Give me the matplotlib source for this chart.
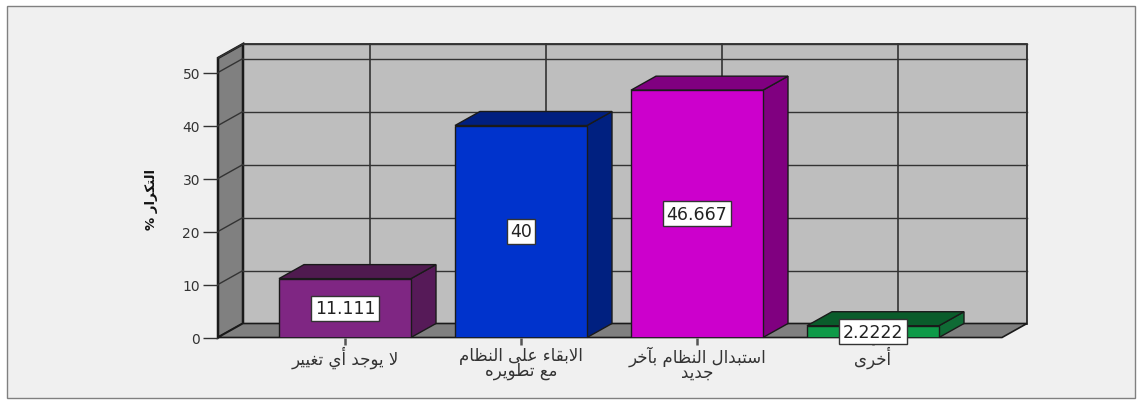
import unicodedata
import matplotlib
matplotlib.use('Agg')
import matplotlib.pyplot as plt
from matplotlib.patches import Polygon, Rectangle

labels = ['لا يوجد أي تغيير', 'الابقاء على النظام\nمع تطويره', 'استبدال النظام بآخر\nجديد', 'أخرى']
values = [11.111, 40, 46.667, 2.2222]
value_labels = ['11.111', '40', '46.667', '2.2222']
y_ticks = [0, 10, 20, 30, 40, 50]
y_title = 'التكرار %'

front_colors = ['#7f2683', '#0033cc', '#cc00cc', '#0e9a48']
top_colors = ['#4f1a4f', '#001f80', '#800080', '#0a5c2b']
side_colors = ['#561a58', '#002080', '#800080', '#0f6b35']

W, H = 1143, 414
DX = 25 / 176   # depth in category units
DY = 14 / 5.3   # depth in value units
BAR = 0.75
EDGE = '#1a1a1a'

# matplotlib has no arabic shaping, so pick the presentation forms by hand
RIGHT_ONLY = 'اأآدذرزوى'
NAMES = {'ا': 'ALEF', 'أ': 'ALEF WITH HAMZA ABOVE', 'آ': 'ALEF WITH MADDA ABOVE', 'ب': 'BEH', 'ت': 'TEH',
         'ج': 'JEEM', 'خ': 'KHAH', 'د': 'DAL', 'ر': 'REH', 'س': 'SEEN', 'ط': 'TAH', 'ظ': 'ZAH', 'ع': 'AIN',
         'غ': 'GHAIN', 'ق': 'QAF', 'ك': 'KAF', 'ل': 'LAM', 'م': 'MEEM', 'ن': 'NOON', 'ه': 'HEH', 'و': 'WAW',
         'ى': 'ALEF MAKSURA', 'ي': 'YEH', 'ء': 'HAMZA'}


def shape_line(line):
    out = []
    i = 0
    while i < len(line):
        c = line[i]
        if c not in NAMES:
            out.append(c)
            i += 1
            continue
        prev = line[i - 1] if i > 0 else ' '
        joins_prev = prev in NAMES and prev not in RIGHT_ONLY and prev != 'ء' and c != 'ء'
        if c == 'ل' and i + 1 < len(line) and line[i + 1] == 'ا':
            out.append('\ufefc' if joins_prev else '\ufefb')
            i += 2
            continue
        nxt = line[i + 1] if i + 1 < len(line) else ' '
        joins_next = nxt in NAMES and nxt != 'ء' and c not in RIGHT_ONLY and c != 'ء'
        form = {(0, 0): 'ISOLATED', (1, 0): 'FINAL', (0, 1): 'INITIAL', (1, 1): 'MEDIAL'}[(int(joins_prev), int(joins_next))]
        out.append(unicodedata.lookup('ARABIC LETTER %s %s FORM' % (NAMES[c], form)))
        i += 1
    return ''.join(out)[::-1]


def shape(text):
    return '\n'.join(shape_line(l) for l in text.split('\n'))


plt.rcParams['font.family'] = ['DejaVu Sans']

fig = plt.figure(figsize=(W / 100, H / 100), dpi=100, facecolor='white')
fig.patches.append(Rectangle((7 / W, 1 - 399 / H), 1128 / W, 392 / H, transform=fig.transFigure,
                             facecolor='#f0f0f0', edgecolor='#808080', linewidth=1, zorder=-1))

# axes = front plane of the 3d box
ax = fig.add_axes([218 / W, 1 - 338.5 / H, 784 / W, 279.5 / H])
ax.patch.set_visible(False)
ax.set_xlim(-127 / 176, 657 / 176)
ymax = 279.5 / 5.3
ax.set_ylim(0, ymax)
x0, x1 = ax.get_xlim()

for s in ax.spines.values():
    s.set_visible(False)

# walls
ax.add_patch(Polygon([(x0 + DX, DY), (x1 + DX, DY), (x1 + DX, ymax + DY), (x0 + DX, ymax + DY)],
                     facecolor='#bebebe', edgecolor=EDGE, linewidth=1.2, clip_on=False, zorder=1))
ax.add_patch(Polygon([(x0, 0), (x0 + DX, DY), (x0 + DX, ymax + DY), (x0, ymax)],
                     facecolor='#808080', edgecolor=EDGE, linewidth=1.8, clip_on=False, zorder=1))
ax.add_patch(Polygon([(x0, 0), (x1, 0), (x1 + DX, DY), (x0 + DX, DY)],
                     facecolor='#808080', edgecolor=EDGE, linewidth=1.2, clip_on=False, zorder=1))

# grid on the back wall and the left wall
for t in y_ticks[1:] + [ymax]:
    ax.plot([x0 + DX, x1 + DX], [t + DY, t + DY], color='#333333', linewidth=1, clip_on=False, zorder=2)
    ax.plot([x0, x0 + DX], [t, t + DY], color='#333333', linewidth=1, clip_on=False, zorder=2)
for i in range(len(values)):
    ax.plot([i + DX, i + DX], [DY, ymax + DY], color='#333333', linewidth=1.2, clip_on=False, zorder=2)

# bars
for i, v in enumerate(values):
    l, r = i - BAR / 2, i + BAR / 2
    ax.add_patch(Polygon([(r, 0), (r + DX, DY), (r + DX, v + DY), (r, v)], facecolor=side_colors[i],
                         edgecolor=EDGE, linewidth=1, clip_on=False, zorder=3))
    ax.add_patch(Polygon([(l, v), (r, v), (r + DX, v + DY), (l + DX, v + DY)], facecolor=top_colors[i],
                         edgecolor=EDGE, linewidth=1, clip_on=False, zorder=3))
    ax.bar(i, v, width=BAR, color=front_colors[i], edgecolor=EDGE, linewidth=1, zorder=4)
    ax.text(i, v / 2, value_labels[i], ha='center', va='center', fontsize=12.5, color='#222222', zorder=6,
            bbox=dict(boxstyle='square,pad=0.2', facecolor='white', edgecolor='#333333', linewidth=1))

ax.axhline(0, color=EDGE, linewidth=1.2, zorder=5)

ax.set_yticks(y_ticks)
ax.set_xticks(range(len(values)))
ax.set_xticklabels([shape(l) for l in labels], fontsize=12, color='#333333', linespacing=0.75)
ax.tick_params(axis='y', length=11, width=1, color='#333333', labelsize=10, labelcolor='#333333', pad=2)
ax.tick_params(axis='x', length=5, width=1.8, color='#555555', pad=1)

fig.text(151 / W, 1 - 200 / H, shape(y_title), rotation=90, ha='center', va='center',
         fontsize=9.5, fontweight='bold', color='#111111')

fig.savefig('out.png', dpi=100)
